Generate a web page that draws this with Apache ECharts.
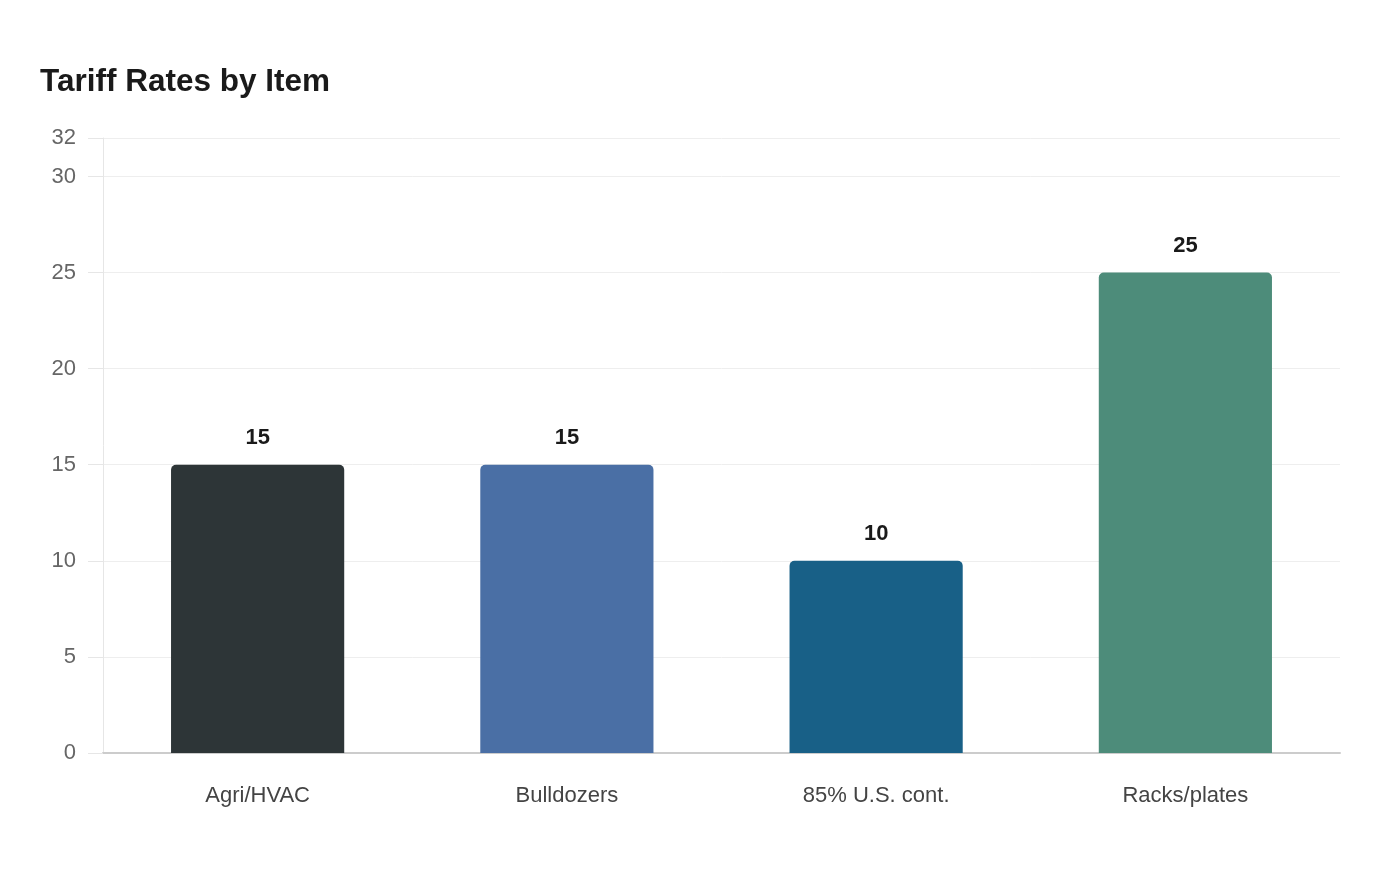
<!DOCTYPE html>
<html>
<head>
    <meta charset="utf-8">
    <title>Tariff Rates by Item</title>
    <script src="https://cdn.jsdelivr.net/npm/echarts@6/dist/echarts.min.js"></script>
</head>
<body style="margin:0;background:#fff;">
<div id="main" style="width: 1400px;height:880px;"></div>
<script type="text/javascript">

    /* data ============================== */
    var categories = ['Agri/HVAC', 'Bulldozers', '85% U.S. cont.', 'Racks/plates'];
    var rates = [15, 15, 10, 25];
    var barColors = ['#2d3537', '#4a6fa5', '#186087', '#4d8c7a'];

    var FONT = 'Liberation Sans';

    var myChart = echarts.init(document.getElementById('main'));

    myChart.setOption({
        backgroundColor: '#ffffff',
        textStyle: {fontFamily: FONT},
        title: {
            text: 'Tariff Rates by Item',
            left: 40,
            top: 66,
            padding: 0,
            textStyle: {fontFamily: FONT, fontSize: 31.5, fontWeight: 'bold', color: '#1a1a1a'}
        },
        grid: {
            left: 103,
            right: 60,
            top: 138,
            bottom: 127,
            containLabel: false
        },
        xAxis: {
            type: 'category',
            data: categories,
            axisLine: {lineStyle: {color: '#cccccc', width: 2}},
            axisTick: {show: false},
            axisLabel: {fontFamily: FONT, fontSize: 22, color: '#444444', margin: 32}
        },
        yAxis: {
            type: 'value',
            min: 0,
            max: 32,
            interval: 5,
            axisLine: {show: true, lineStyle: {color: '#e6e6e6'}},
            axisTick: {show: true, length: 15, lineStyle: {color: '#e6e6e6'}},
            axisLabel: {fontFamily: FONT, fontSize: 22, color: '#666666', margin: 27, showMaxLabel: true},
            splitLine: {lineStyle: {color: '#eeeeee'}}
        },
        series: [
            {
                type: 'bar',
                barWidth: '56%',
                data: rates.map(function (v, i) {
                    return {value: v, itemStyle: {color: barColors[i]}};
                }),
                itemStyle: {borderRadius: [5, 5, 0, 0]},
                label: {
                    show: true,
                    position: 'top',
                    distance: 16,
                    fontFamily: FONT,
                    fontSize: 22,
                    fontWeight: 'bold',
                    color: '#1a1a1a'
                }
            }
        ]
    });

</script>
</body>
</html>
